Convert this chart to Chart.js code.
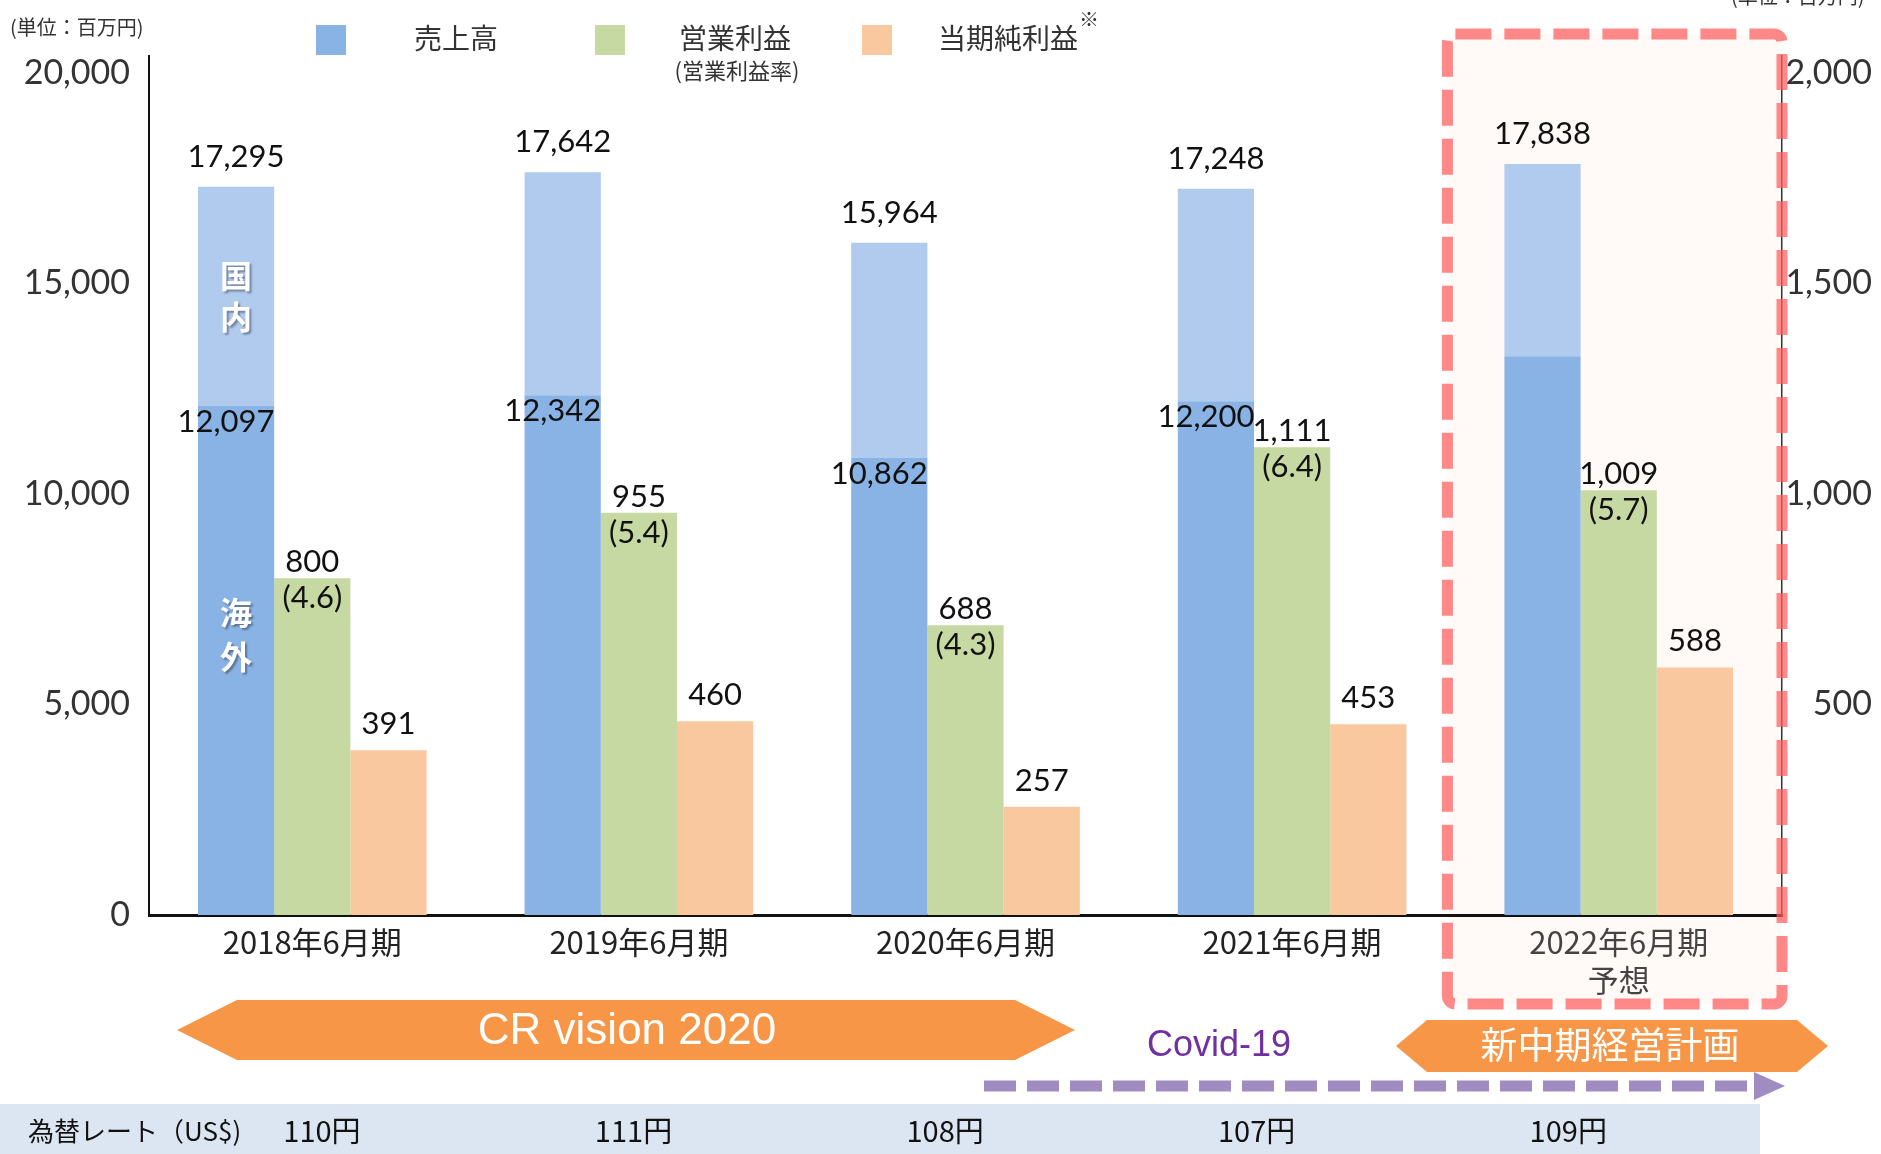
<!DOCTYPE html>
<html lang="ja">
<head>
<meta charset="utf-8">
<title>業績推移</title>
<script src="https://cdn.jsdelivr.net/npm/chart.js@4.4.1/dist/chart.umd.min.js"></script>
<style>
  html, body { margin: 0; padding: 0; background: #fff; }
  #chart { display: block; }
</style>
</head>
<body>
<canvas id="chart" width="1881" height="1154"></canvas>
<script>
// Periods and figures (百万円)
const periods = ['2018年6月期', '2019年6月期', '2020年6月期', '2021年6月期', ['2022年6月期', '予想']];
const isForecast = [false, false, false, false, true];
const salesTotal = [17295, 17642, 15964, 17248, 17838];
const salesOverseas = [12097, 12342, 10862, 12200, 13270];
const operatingProfit = [800, 955, 688, 1111, 1009];
const operatingMargin = [4.6, 5.4, 4.3, 6.4, 5.7];
const netProfit = [391, 460, 257, 453, 588];
const fxRates = ['110円', '111円', '108円', '107円', '109円'];
const salesTicks = [0, 5000, 10000, 15000, 20000];
const profitTicks = [500, 1000, 1500, 2000];

const salesDomestic = salesTotal.map((t, i) => t - salesOverseas[i]);

const COLORS = {
    overseas: '#8AB3E5',
    domestic: '#B0CBEE',
    operating: '#C7D9A2',
    net: '#F9C89E',
    arrow: '#F79646',
    covid: '#7030A0',
    covidLine: '#A08CC0',
    panelLine: 'rgba(255, 90, 90, 0.72)',
    panelFill: '#FFFAF7',
    band: '#DCE6F2'
};
const JP = '"Noto Sans CJK JP", "Noto Sans", sans-serif';
const NUM = 'Lato, "Noto Sans", sans-serif';

const fmt = v => v.toLocaleString('en-US');

// Left-and-right pointed banner
function hexBanner(ctx, x1, x2, yTop, yBot, tip, color) {
    const yMid = (yTop + yBot) / 2;
    ctx.beginPath();
    ctx.moveTo(x1, yMid);
    ctx.lineTo(x1 + tip, yTop);
    ctx.lineTo(x2 - tip, yTop);
    ctx.lineTo(x2, yMid);
    ctx.lineTo(x2 - tip, yBot);
    ctx.lineTo(x1 + tip, yBot);
    ctx.closePath();
    ctx.fillStyle = color;
    ctx.fill();
}

function forecastBox(chart) {
    const x = chart.scales.x;
    const step = x.getPixelForValue(4) - x.getPixelForValue(3);
    return {
        left: x.getPixelForValue(4) - step / 2 - 8,
        right: chart.chartArea.right,
        top: chart.chartArea.top - 22,
        bottom: 1004
    };
}

// White page + forecast panel fill
const backdropPlugin = {
    id: 'backdrop',
    beforeDraw(chart) {
        const ctx = chart.ctx;
        ctx.save();
        ctx.fillStyle = '#fff';
        ctx.fillRect(0, 0, chart.width, chart.height);
        const b = forecastBox(chart);
        ctx.fillStyle = COLORS.panelFill;
        ctx.beginPath();
        ctx.roundRect(b.left, b.top, b.right - b.left, b.bottom - b.top, 8);
        ctx.fill();
        ctx.restore();
    }
};

// Value labels on the bars + dashed frame around the forecast year
const barLabelPlugin = {
    id: 'barLabels',
    afterDatasetsDraw(chart) {
        const ctx = chart.ctx;
        const overseas = chart.getDatasetMeta(0).data;
        const domestic = chart.getDatasetMeta(1).data;
        const operating = chart.getDatasetMeta(2).data;
        const net = chart.getDatasetMeta(3).data;

        ctx.save();
        ctx.fillStyle = '#111';
        ctx.textAlign = 'center';
        ctx.textBaseline = 'alphabetic';
        ctx.font = `31px ${NUM}`;
        periods.forEach((p, i) => {
            ctx.fillText(fmt(salesTotal[i]), domestic[i].x, domestic[i].y - 20);
            if (!isForecast[i]) {
                ctx.fillText(fmt(salesOverseas[i]), overseas[i].x - 10, overseas[i].y + 26);
            }
            ctx.fillText(fmt(operatingProfit[i]), operating[i].x, operating[i].y - 6);
            ctx.fillText(`(${operatingMargin[i].toFixed(1)})`, operating[i].x, operating[i].y + 30);
            ctx.fillText(fmt(netProfit[i]), net[i].x, net[i].y - 16);
        });

        // 国内 / 海外 tags on the first sales bar
        ctx.font = `bold 32px ${JP}`;
        ctx.fillStyle = '#fff';
        ctx.textBaseline = 'middle';
        ctx.shadowColor = 'rgba(0, 0, 0, 0.35)';
        ctx.shadowOffsetX = 2;
        ctx.shadowOffsetY = 2;
        ctx.shadowBlur = 2;
        const d = domestic[0], o = overseas[0];
        const dMid = (d.y + d.base) / 2;
        const oMid = (o.y + o.base) / 2 - 25;
        ctx.fillText('国', d.x, dMid - 20);
        ctx.fillText('内', d.x, dMid + 21);
        ctx.fillText('海', o.x, oMid - 22);
        ctx.fillText('外', o.x, oMid + 22);
        ctx.restore();

        // dashed frame
        const b = forecastBox(chart);
        ctx.save();
        ctx.strokeStyle = COLORS.panelLine;
        ctx.lineWidth = 11;
        ctx.setLineDash([36, 13]);
        ctx.beginPath();
        ctx.roundRect(b.left, b.top, b.right - b.left, b.bottom - b.top, 8);
        ctx.stroke();
        ctx.restore();
    }
};

// Legend, unit notes, banners and exchange-rate row
const annotationPlugin = {
    id: 'annotations',
    afterDraw(chart) {
        const ctx = chart.ctx;
        const x = chart.scales.x;
        ctx.save();

        ctx.fillStyle = '#333';
        ctx.font = `20px ${JP}`;
        ctx.textBaseline = 'middle';
        ctx.textAlign = 'left';
        ctx.fillText('(単位：百万円)', 10, 27);
        ctx.fillText('(単位：百万円)', 1731, -4);

        // legend
        const legend = [
            { color: COLORS.overseas, box: 316, text: '売上高', tx: 456 },
            { color: COLORS.operating, box: 595, text: '営業利益', tx: 735, sub: '(営業利益率)' },
            { color: COLORS.net, box: 862, text: '当期純利益', tx: 1008, note: '※' }
        ];
        legend.forEach(item => {
            ctx.fillStyle = item.color;
            ctx.fillRect(item.box, 25, 30, 30);
            ctx.fillStyle = '#333';
            ctx.textAlign = 'center';
            ctx.font = `28px ${JP}`;
            ctx.fillText(item.text, item.tx, 38);
            if (item.sub) {
                ctx.font = `22px ${JP}`;
                ctx.fillText(item.sub, item.tx + 2, 71);
            }
            if (item.note) {
                ctx.font = `20px ${JP}`;
                ctx.fillText(item.note, item.tx + 81, 19);
            }
        });

        // CR vision 2020 banner
        hexBanner(ctx, 177, 1075, 1000, 1060, 60, COLORS.arrow);
        ctx.fillStyle = '#fff';
        ctx.textAlign = 'center';
        ctx.font = `44px "Liberation Sans", Arial, sans-serif`;
        ctx.fillText('CR vision 2020', 627, 1032);

        // mid-term plan banner
        hexBanner(ctx, 1396, 1828, 1020, 1072, 31, COLORS.arrow);
        ctx.fillStyle = '#fff';
        ctx.font = `37px ${JP}`;
        ctx.fillText('新中期経営計画', 1610, 1045);

        // Covid-19 period
        ctx.fillStyle = COLORS.covid;
        ctx.font = `36px "Liberation Sans", Arial, sans-serif`;
        ctx.fillText('Covid-19', 1219, 1046);
        ctx.strokeStyle = COLORS.covidLine;
        ctx.lineWidth = 11;
        ctx.setLineDash([32, 11]);
        ctx.beginPath();
        ctx.moveTo(984, 1086);
        ctx.lineTo(1752, 1086);
        ctx.stroke();
        ctx.setLineDash([]);
        ctx.fillStyle = COLORS.covidLine;
        ctx.beginPath();
        ctx.moveTo(1754, 1072);
        ctx.lineTo(1785, 1086);
        ctx.lineTo(1754, 1100);
        ctx.closePath();
        ctx.fill();

        // exchange-rate row (spaced a little tighter than the categories)
        ctx.fillStyle = COLORS.band;
        ctx.fillRect(0, 1104, 1760, 50);
        ctx.fillStyle = '#111';
        ctx.textAlign = 'left';
        ctx.font = `26px ${JP}`;
        ctx.fillText('為替レート（US$)', 28, 1131);
        ctx.textAlign = 'center';
        ctx.font = `29px ${JP}`;
        fxRates.forEach((r, i) => {
            ctx.fillText(r, 24 + 0.954 * x.getPixelForValue(i), 1131);
        });
        ctx.restore();
    }
};

new Chart(document.getElementById('chart'), {
    type: 'bar',
    data: {
        labels: periods,
        datasets: [
            { label: '売上高（海外）', data: salesOverseas, backgroundColor: COLORS.overseas, stack: 'sales', yAxisID: 'y' },
            { label: '売上高（国内）', data: salesDomestic, backgroundColor: COLORS.domestic, stack: 'sales', yAxisID: 'y' },
            { label: '営業利益', data: operatingProfit, backgroundColor: COLORS.operating, stack: 'operating', yAxisID: 'y1' },
            { label: '当期純利益', data: netProfit, backgroundColor: COLORS.net, stack: 'net', yAxisID: 'y1' }
        ]
    },
    options: {
        responsive: false,
        animation: false,
        layout: { padding: { top: 56, right: 9, bottom: 0, left: 0 } },
        datasets: { bar: { categoryPercentage: 0.7, barPercentage: 1.0 } },
        plugins: { legend: { display: false }, tooltip: { enabled: false } },
        scales: {
            x: {
                z: 1,
                grid: { display: false, drawTicks: false },
                border: { color: '#111', width: 3 },
                ticks: {
                    font: { family: JP, size: 31 },
                    color: c => isForecast[c.index] ? '#444' : '#222',
                    padding: 9,
                    maxRotation: 0,
                    autoSkip: false
                },
                afterFit: s => { s.height = 239; }
            },
            y: {
                min: 0,
                max: 20400,
                grid: { display: false, drawTicks: false },
                border: { color: '#111', width: 2 },
                afterBuildTicks: s => { s.ticks = salesTicks.map(v => ({ value: v })); },
                ticks: { font: { family: NUM, size: 34 }, color: '#333', padding: 19, callback: v => fmt(v) },
                afterFit: s => { s.width = 149; }
            },
            y1: {
                position: 'right',
                z: 1,
                min: 0,
                max: 2040,
                grid: { display: false, drawTicks: false },
                border: { color: '#333', width: 1.5 },
                afterBuildTicks: s => { s.ticks = profitTicks.map(v => ({ value: v })); },
                ticks: { font: { family: NUM, size: 34 }, color: '#333', padding: 4, crossAlign: 'far', callback: v => fmt(v) },
                afterFit: s => { s.width = 90; }
            }
        }
    },
    plugins: [backdropPlugin, barLabelPlugin, annotationPlugin]
});
</script>
</body>
</html>
